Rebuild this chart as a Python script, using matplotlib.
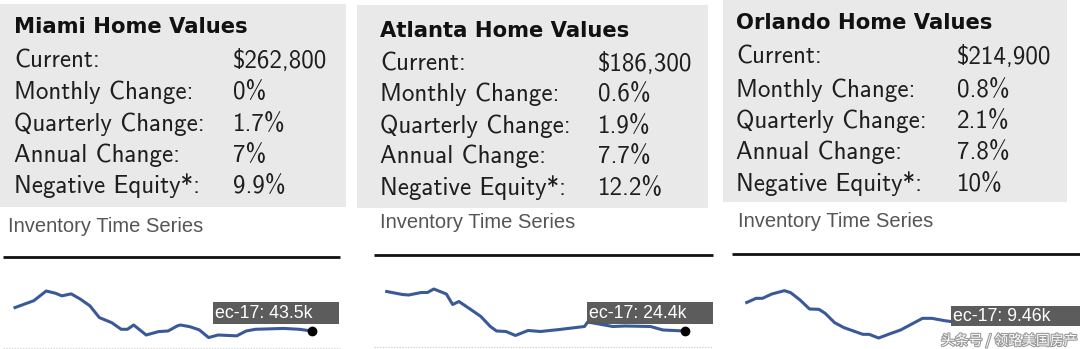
import matplotlib
matplotlib.use("Agg")
import matplotlib.pyplot as plt
from matplotlib.patches import Rectangle
import matplotlib.patheffects as pe

# ---------------- data ----------------
cities = ["Miami", "Atlanta", "Orlando"]
row_labels = ["Current:", "Monthly Change:", "Quarterly Change:", "Annual Change:", "Negative Equity*:"]
current_value = [262800, 186300, 214900]
monthly_change = [0, 0.6, 0.8]
quarterly_change = [1.7, 1.9, 2.1]
annual_change = [7, 7.7, 7.8]
negative_equity = [9.9, 12.2, 10]

series_title = "Inventory Time Series"
tooltip_labels = ["ec-17: 43.5k", "ec-17: 24.4k", "ec-17: 9.46k"]

# inventory (thousands) vs month index
miami_months = [0, 6, 10, 13, 15, 18, 21, 24, 27, 31, 34, 36, 38, 42, 46, 49, 52, 53, 56, 59, 62, 65, 71, 74, 77, 86, 91, 95]
miami_inv = [51.7, 54.1, 57.5, 56.7, 55.8, 56.5, 54.6, 52.3, 48.2, 46.4, 44.1, 44.1, 45.6, 42.1, 43.3, 43.5, 45.3, 45.6,
             45.0, 43.9, 41.2, 42.1, 41.8, 43.5, 44.1, 44.4, 44.1, 43.5]
atlanta_months = [0, 5, 7, 11, 13, 15, 19, 21, 23, 27, 30, 33, 35, 38, 41, 45, 49, 55, 63, 64, 72, 76, 84, 88, 95]
atlanta_inv = [32.3, 31.7, 31.6, 32.1, 32.1, 32.8, 31.8, 29.7, 30.3, 28.6, 27.3, 25.3, 24.4, 24.3, 23.5, 24.5, 24.3,
               24.7, 25.3, 26.2, 25.3, 25.4, 25.3, 24.6, 24.4]
orlando_months = [0, 3, 5, 8, 12, 14, 17, 20, 23, 25, 28, 31, 34, 37, 39, 42, 46, 49, 52, 56, 59, 63, 65]
orlando_inv = [10.6, 10.85, 10.85, 11.11, 11.31, 11.19, 10.75, 10.21, 10.19, 9.95, 9.39, 9.09, 8.89, 8.69, 8.69, 8.47,
               8.75, 8.95, 9.25, 9.65, 9.65, 9.51, 9.46]

watermark = "头条号 / 领路美国房产"

# ---------------- layout (pixels) ----------------
W, H = 1080, 349
fig = plt.figure(figsize=(W / 100, H / 100), dpi=100)
fig.patch.set_facecolor("white")

bg = fig.add_axes([0, 0, 1, 1], zorder=0)
bg.set_xlim(0, W); bg.set_ylim(H, 0); bg.axis("off")
top = fig.add_axes([0, 0, 1, 1], zorder=3)
top.set_xlim(0, W); top.set_ylim(H, 0); top.axis("off"); top.patch.set_alpha(0)

boxes = [(0, 4, 346, 207), (357, 5, 708, 208), (723, 0, 1067, 202)]
title_pos = [(14, 33), (380, 37), (736, 29)]
label_x = [14, 380, 736]
value_x = [232.5, 598, 956.5]
row_base = [[68, 99, 130.5, 162, 193.5], [70.5, 101.5, 132.5, 163.5, 194.5], [64, 96.5, 128, 159, 190.5]]
ts_title = [(8, 226.5), (380, 222.5), (738, 221.5)]
rule = [(3, 340, 256.5), (374, 713, 254.5), (732, 1080, 254)]
dots_line = [(3, 340, 347.5), (374, 713, 346.5)]
tips = [(213, 302, 339, 323.5), (587, 302, 713, 323.5), (951, 306, 1080, 326)]
chart_x = [(15, 311.7), (386.7, 685), (746.7, 950.8)]
chart_y = (280, 345)
ylims = [(38.6, 61.35), (21.6, 34.6), (8.05, 11.95)]
xspan = [95, 95, 65]

line_color = "#3a5998"

months = [miami_months, atlanta_months, orlando_months]
invs = [miami_inv, atlanta_inv, orlando_inv]

for i, city in enumerate(cities):
    x0, y0, x1, y1 = boxes[i]
    bg.add_patch(Rectangle((x0, y0), x1 - x0, y1 - y0, facecolor="#e9e9ea", edgecolor="none"))
    tx, ty = title_pos[i]
    bg.text(tx, ty, f"{city} Home Values", fontfamily="DejaVu Sans", fontweight="bold",
            fontsize=15.2, color="#111111", va="baseline", ha="left")
    vals = [f"${current_value[i]:,}", f"{monthly_change[i]:g}%", f"{quarterly_change[i]:g}%",
            f"{annual_change[i]:g}%", f"{negative_equity[i]:g}%"]
    for j, lab in enumerate(row_labels):
        yb = row_base[i][j]
        bg.text(label_x[i], yb, lab, fontfamily="cmss10", fontsize=18, color="#1e1e1e",
                va="baseline", ha="left")
        bg.text(value_x[i], yb, vals[j], fontfamily="cmss10", fontsize=18, color="#1e1e1e",
                va="baseline", ha="left")
    sx, sy = ts_title[i]
    bg.text(sx, sy, series_title, fontfamily="Liberation Sans", fontsize=14.5, color="#555555",
            va="center", ha="left")
    rx0, rx1, ry = rule[i]
    bg.plot([rx0, rx1], [ry, ry], color="#111111", lw=2.0, solid_capstyle="butt")

for (dx0, dx1, dy) in dots_line:
    bg.plot([dx0, dx1], [dy, dy], color="#d8d8d8", lw=1.0, ls=(0, (1, 1)))

for i in range(3):
    cx0, cx1 = chart_x[i]
    yt, yb = chart_y
    ax = fig.add_axes([cx0 / W, 1 - yb / H, (cx1 - cx0) / W, (yb - yt) / H], zorder=1)
    ax.patch.set_alpha(0)
    ax.axis("off")
    ax.set_xlim(0, xspan[i]); ax.set_ylim(*ylims[i])
    ax.plot(months[i], invs[i], color=line_color, lw=2.2, solid_joinstyle="round", clip_on=False)
    if i < 2:
        ax.plot([months[i][-1]], [invs[i][-1]], "o", color="black", ms=6, clip_on=False, zorder=5)

for i in range(3):
    x0, y0, x1, y1 = tips[i]
    top.add_patch(Rectangle((x0, y0), x1 - x0, y1 - y0, facecolor="#575757", edgecolor="none", alpha=0.97))
    top.text(x0 + 2, (y0 + y1) / 2 + 0.5, tooltip_labels[i], fontfamily="Liberation Sans", fontsize=12.8,
             color="white", va="center", ha="left")

top.text(941, 340.5, watermark, fontfamily=["Noto Sans CJK SC", "DejaVu Sans"], fontsize=10,
         color="white", va="center", ha="left",
         path_effects=[pe.withStroke(linewidth=1.6, foreground="#9a9a9a")])

fig.savefig("out.png", dpi=100, facecolor="white")
